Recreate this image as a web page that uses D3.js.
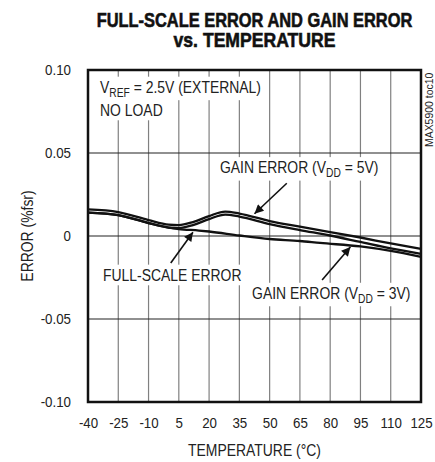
<!DOCTYPE html>
<html>
<head>
<meta charset="utf-8">
<script src="https://cdn.jsdelivr.net/npm/d3@7"></script>
<style>
  body { margin: 0; background: #fff; }
  text { font-family: "Liberation Sans", Arial, sans-serif; fill: #222; }
</style>
</head>
<body>
<div id="chart"></div>
<script>
// Data
var temps = [-40, -25, -10, 0, 5, 12, 20, 28, 35, 50, 65, 80, 95, 110, 125];
var gain5V = [0.0160, 0.0144, 0.0096, 0.0069, 0.0066, 0.0084, 0.0120, 0.0147, 0.0135, 0.0090, 0.0057, 0.0024, -0.0009, -0.0045, -0.0078];
var gain3V = [0.0141, 0.0126, 0.0078, 0.0051, 0.0048, 0.0066, 0.0102, 0.0129, 0.0117, 0.0072, 0.0036, 0.0003, -0.0036, -0.0075, -0.0108];
var fsTemps = [-40, -25, -10, 0, 5, 15, 20, 35, 50, 65, 75, 95, 110, 125];
var fullScale = [0.0141, 0.0126, 0.0078, 0.0051, 0.0042, 0.0033, 0.0027, 0.0003, -0.0018, -0.0030, -0.0042, -0.0063, -0.0090, -0.0126];
var xTicks = [-40, -25, -10, 5, 20, 35, 50, 65, 80, 95, 110, 125];
var yTicks = [-0.10, -0.05, 0, 0.05, 0.10];
var yTickLabels = ["-0.10", "-0.05", "0", "0.05", "0.10"];

// Dimensions
var svgWidth = 435;
var svgHeight = 462;
var margin = { top: 70, right: 14, bottom: 60, left: 88 };
var width = svgWidth - margin.left - margin.right;
var height = svgHeight - margin.top - margin.bottom;

// horizontal squeeze to mimic a condensed face
var squeeze = 0.82;

var svg = d3.select("#chart")
  .append("svg")
  .attr("width", svgWidth)
  .attr("height", svgHeight);

var defs = svg.append("defs");
defs.append("marker")
  .attr("id", "arrow")
  .attr("viewBox", "0 0 10 10")
  .attr("refX", 10)
  .attr("refY", 5)
  .attr("markerUnits", "userSpaceOnUse")
  .attr("markerWidth", 13)
  .attr("markerHeight", 9)
  .attr("orient", "auto")
  .append("path")
  .attr("d", "M0,0 L10,5 L0,10 Z")
  .attr("fill", "#111");

// Title (two lines, heavy condensed look), squeezed to the reference widths
var titleLines = [
  { text: "FULL-SCALE ERROR AND GAIN ERROR", y: 26.5, len: 316 },
  { text: "vs. TEMPERATURE", y: 46.5, len: 162 }
];
titleLines.forEach(l => {
  var g = svg.append("g");
  var t = g.append("text")
    .attr("text-anchor", "middle")
    .attr("font-weight", "bold")
    .attr("font-size", "20px")
    .attr("stroke", "#111")
    .attr("stroke-width", 0.6)
    .style("fill", "#111")
    .text(l.text);
  var k = l.len / t.node().getComputedTextLength();
  g.attr("transform", `translate(${margin.left + width / 2}, ${l.y}) scale(${k},1)`);
});

var chart = svg.append("g")
  .attr("transform", `translate(${margin.left}, ${margin.top})`);

var x = d3.scaleLinear().domain([-40, 125]).range([0, width]);
var y = d3.scaleLinear().domain([-0.1, 0.1]).range([height, 0]);

// Grid lines
chart.append("g")
  .selectAll("line")
  .data(xTicks.slice(1, -1))
  .enter()
  .append("line")
  .attr("x1", d => x(d)).attr("x2", d => x(d))
  .attr("y1", 0).attr("y2", height)
  .attr("stroke", "#808080")
  .attr("stroke-width", 1.2);

chart.append("g")
  .selectAll("line")
  .data(yTicks.slice(1, -1))
  .enter()
  .append("line")
  .attr("x1", 0).attr("x2", width)
  .attr("y1", d => y(d)).attr("y2", d => y(d))
  .attr("stroke", "#222")
  .attr("stroke-width", 1.2);

// Axes (labels only)
var tickK = 0.86;
var bottomAxis = d3.axisBottom(x).tickValues(xTicks).tickSize(0).tickPadding(15)
  .tickFormat(d => String(d));
var leftAxis = d3.axisLeft(y).tickValues(yTicks).tickSize(0).tickPadding(17)
  .tickFormat((d, i) => yTickLabels[i]);

var xAxis = chart.append("g")
  .attr("transform", `translate(0, ${height})`)
  .call(bottomAxis);
var yAxis = chart.append("g").call(leftAxis);
[xAxis, yAxis].forEach(a => {
  a.select(".domain").remove();
  a.selectAll("text")
    .attr("font-size", "15.5px")
    .attr("font-family", "\"Liberation Sans\", Arial, sans-serif")
    .style("fill", "#222")
    .attr("transform", `scale(${tickK},1)`);
});
yAxis.selectAll("text").attr("x", -17 / tickK);

// Axis titles
chart.append("g")
  .attr("transform", `translate(${width / 2}, ${height + 54}) scale(${squeeze},1)`)
  .append("text")
  .attr("text-anchor", "middle")
  .attr("font-size", "17px")
  .text("TEMPERATURE (°C)");

chart.append("g")
  .attr("transform", `translate(-55, ${height / 2}) rotate(-90) scale(${squeeze},1)`)
  .append("text")
  .attr("text-anchor", "middle")
  .attr("font-size", "17px")
  .text("ERROR (%fsr)");

svg.append("g")
  .attr("transform", `translate(433, 147) rotate(-90) scale(0.95,1)`)
  .append("text")
  .attr("font-size", "11px")
  .text("MAX5900 toc10");

// Label helper with white background
function addLabel(tx, ty, parts) {
  var g = chart.append("g")
    .attr("transform", `translate(${tx}, ${ty}) scale(${squeeze},1)`);
  var t = g.append("text")
    .attr("font-size", "17px");
  parts.forEach(p => {
    if (p.sub) {
      t.append("tspan").attr("font-size", "12.5px").attr("dy", 4).text(p.t);
    } else if (p.after) {
      t.append("tspan").attr("dy", -4).text(p.t);
    } else {
      t.append("tspan").text(p.t);
    }
  });
  var bb = t.node().getBBox();
  g.insert("rect", "text")
    .attr("x", bb.x - 3).attr("y", bb.y - 1)
    .attr("width", bb.width + 6).attr("height", bb.height + 2)
    .attr("fill", "#fff");
  return g;
}

addLabel(12, 23, [{ t: "V" }, { t: "REF", sub: true }, { t: " = 2.5V (EXTERNAL)", after: true }]);
addLabel(12, 46, [{ t: "NO LOAD" }]);

// Curves
var line = d3.line()
  .x(d => x(d[0]))
  .y(d => y(d[1]))
  .curve(d3.curveMonotoneX);

var series = [
  d3.zip(fsTemps, fullScale),
  d3.zip(temps, gain3V),
  d3.zip(temps, gain5V)
];

chart.append("g")
  .selectAll("path")
  .data(series)
  .enter()
  .append("path")
  .attr("d", line)
  .attr("fill", "none")
  .attr("stroke", "#111")
  .attr("stroke-width", 2.3);

// Curve labels
addLabel(x(25.4), y(0.0377), [{ t: "GAIN ERROR (V" }, { t: "DD", sub: true }, { t: " = 5V)", after: true }]);
addLabel(x(-32.6), y(-0.0271), [{ t: "FULL-SCALE ERROR" }]);
addLabel(x(41.3), y(-0.038), [{ t: "GAIN ERROR (V" }, { t: "DD", sub: true }, { t: " = 3V)", after: true }]);

// Arrows: [from temp, from value, to temp, to value]
var arrows = [
  [58.5, 0.0318, 42.5, 0.0134],
  [1, -0.0163, 12, 0.0023],
  [76, -0.0265, 90, -0.0066]
];
chart.append("g")
  .selectAll("line")
  .data(arrows)
  .enter()
  .append("line")
  .attr("x1", d => x(d[0])).attr("y1", d => y(d[1]))
  .attr("x2", d => x(d[2])).attr("y2", d => y(d[3]))
  .attr("stroke", "#111")
  .attr("stroke-width", 1.6)
  .attr("marker-end", "url(#arrow)");

// Frame
chart.append("rect")
  .attr("x", 0).attr("y", 0)
  .attr("width", width).attr("height", height)
  .attr("fill", "none")
  .attr("stroke", "#111")
  .attr("stroke-width", 2.5);
</script>
</body>
</html>
